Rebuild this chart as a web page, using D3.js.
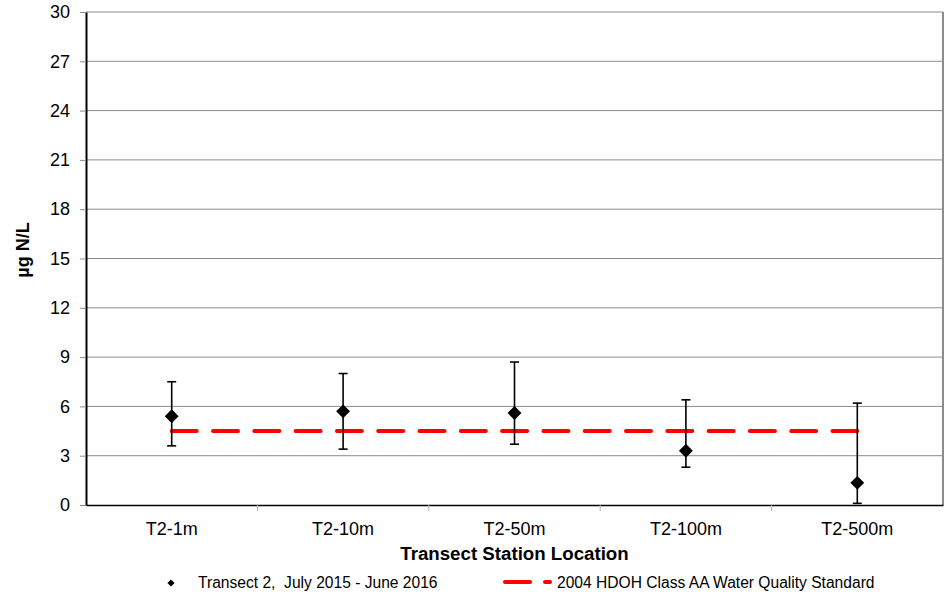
<!DOCTYPE html>
<html>
<head>
<meta charset="utf-8">
<script src="https://cdn.jsdelivr.net/npm/d3@7"></script>
<style>
  html, body { margin: 0; padding: 0; background: #fff; }
  svg { display: block; font-family: "Liberation Sans", Arial, sans-serif; }
  text { white-space: pre; }
</style>
</head>
<body>
<svg id="chart" width="951" height="600"></svg>
<script>
// ---- Data ----
const categories = ["T2-1m", "T2-10m", "T2-50m", "T2-100m", "T2-500m"];
const means = [5.4, 5.7, 5.6, 3.3, 1.35];
const upper = [7.5, 8.0, 8.7, 6.4, 6.2];
const lower = [3.6, 3.4, 3.7, 2.3, 0.1];
const standardValue = 4.5;
const yTicks = [0, 3, 6, 9, 12, 15, 18, 21, 24, 27, 30];
const seriesLabel = "Transect 2,  July 2015 - June 2016";
const standardLabel = "2004 HDOH Class AA Water Quality Standard";
const xTitle = "Transect Station Location";
const yTitle = "\u00b5g N/L";

// ---- Layout ----
const svg = d3.select("#chart");
const plotLeft = 86, plotRight = 943, plotTop = 12, plotBottom = 505;

const x = d3.scaleBand().domain(categories).range([plotLeft, plotRight]).padding(0);
const y = d3.scaleLinear().domain([0, 30]).range([plotBottom, plotTop]);
const cx = d => x(d) + x.bandwidth() / 2;

// gridlines
svg.append("g").selectAll("line")
  .data(yTicks.filter(t => t > 0))
  .join("line")
  .attr("x1", plotLeft).attr("x2", plotRight)
  .attr("y1", d => y(d)).attr("y2", d => y(d))
  .attr("stroke", "#8c8c8c").attr("stroke-width", 1);

// right border
svg.append("line")
  .attr("x1", plotRight).attr("x2", plotRight)
  .attr("y1", y(30)).attr("y2", plotBottom)
  .attr("stroke", "#8c8c8c").attr("stroke-width", 2);

// y axis
const yAxis = d3.axisLeft(y).tickValues(yTicks).tickSize(6).tickPadding(10).tickSizeOuter(0);
const gy = svg.append("g").attr("transform", `translate(${plotLeft},0)`).call(yAxis);
gy.select(".domain").attr("stroke", "#000").attr("stroke-width", 2);
gy.selectAll(".tick line").attr("stroke", "#8c8c8c");
gy.selectAll(".tick text").attr("font-size", 18).attr("fill", "#000")
  .attr("font-family", "Liberation Sans, Arial, sans-serif");

// x axis
const xAxis = d3.axisBottom(x).tickSize(0).tickPadding(17).tickSizeOuter(0);
const gx = svg.append("g").attr("transform", `translate(0,${plotBottom})`).call(xAxis);
gx.select(".domain").attr("stroke", "#000").attr("stroke-width", 1.5);
gx.selectAll(".tick text").attr("font-size", 18).attr("fill", "#000")
  .attr("font-family", "Liberation Sans, Arial, sans-serif");
// category separators
svg.append("g").selectAll("line")
  .data(categories.slice(1))
  .join("line")
  .attr("x1", d => x(d)).attr("x2", d => x(d))
  .attr("y1", plotBottom).attr("y2", plotBottom + 6)
  .attr("stroke", "#b0b0b0").attr("stroke-width", 1);

// standard line
svg.append("line")
  .attr("x1", cx(categories[0])).attr("x2", cx(categories[categories.length - 1]))
  .attr("y1", y(standardValue)).attr("y2", y(standardValue))
  .attr("stroke", "#ff0000").attr("stroke-width", 4)
  .attr("stroke-linecap", "round")
  .attr("stroke-dasharray", "25,16.3");

// error bars
const eb = svg.append("g").attr("stroke", "#000").attr("stroke-width", 1.6);
categories.forEach((c, i) => {
  eb.append("line").attr("x1", cx(c)).attr("x2", cx(c)).attr("y1", y(upper[i])).attr("y2", y(lower[i]));
  eb.append("line").attr("x1", cx(c) - 4.5).attr("x2", cx(c) + 4.5).attr("y1", y(upper[i])).attr("y2", y(upper[i]));
  eb.append("line").attr("x1", cx(c) - 4.5).attr("x2", cx(c) + 4.5).attr("y1", y(lower[i])).attr("y2", y(lower[i]));
});

// diamonds
const diamond = d3.symbol().type(d3.symbolSquare).size(96);
svg.append("g").selectAll("path")
  .data(categories)
  .join("path")
  .attr("d", diamond)
  .attr("transform", (d, i) => `translate(${cx(d)},${y(means[i])}) rotate(45)`)
  .attr("fill", "#000");

// titles
svg.append("text")
  .attr("x", (plotLeft + plotRight) / 2).attr("y", 560)
  .attr("text-anchor", "middle").attr("font-size", 18.7).attr("font-weight", "bold")
  .text(xTitle);
svg.append("text")
  .attr("transform", "translate(29,250) rotate(-90)")
  .attr("text-anchor", "middle").attr("font-size", 18).attr("font-weight", "bold")
  .text(yTitle);

// legend
const ly = 582;
svg.append("path")
  .attr("d", d3.symbol().type(d3.symbolSquare).size(26)())
  .attr("transform", `translate(171,${ly + 1}) rotate(45)`)
  .attr("fill", "#000");
svg.append("text").attr("x", 198).attr("y", ly + 5.5)
  .attr("font-size", 15.6).attr("xml:space", "preserve").text(seriesLabel);
svg.append("line")
  .attr("x1", 505).attr("x2", 530).attr("y1", ly).attr("y2", ly)
  .attr("stroke", "#ff0000").attr("stroke-width", 4).attr("stroke-linecap", "round");
svg.append("line")
  .attr("x1", 545).attr("x2", 550).attr("y1", ly).attr("y2", ly)
  .attr("stroke", "#ff0000").attr("stroke-width", 4).attr("stroke-linecap", "round");
svg.append("text").attr("x", 557).attr("y", ly + 5.5)
  .attr("font-size", 15.6).text(standardLabel);
</script>
</body>
</html>
